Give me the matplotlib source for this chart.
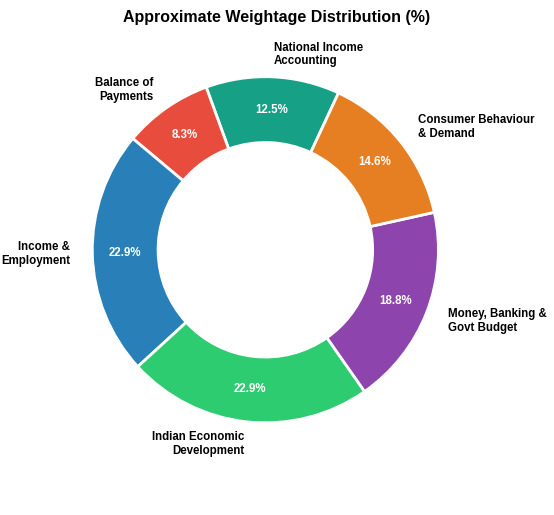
import matplotlib
matplotlib.use("Agg")
import matplotlib.pyplot as plt

labels = ["National Income\nAccounting", "Balance of\nPayments", "Income &\nEmployment",
          "Indian Economic\nDevelopment", "Money, Banking &\nGovt Budget", "Consumer Behaviour\n& Demand"]
values = [6, 4, 11, 11, 9, 7]
colors = ["#16a085", "#e74c3c", "#2980b9", "#2ecc71", "#8e44ad", "#e67e22"]

plt.rcParams['font.family'] = ['Liberation Sans', 'DejaVu Sans']
fig = plt.figure(figsize=(5.54, 5.15), dpi=100)
ax = fig.add_axes([0.034, 0.095, 0.89, 0.84])
wedges, texts, autotexts = ax.pie(values, labels=labels, colors=colors, startangle=65,
       autopct='%1.1f%%', pctdistance=0.81, labeldistance=1.13,
       wedgeprops=dict(width=0.38, edgecolor='white', linewidth=2),
       textprops=dict(fontsize=8.3, fontweight='bold'))
for t in autotexts:
    t.set_color('white')
ax.set_aspect('equal')
fig.suptitle("Approximate Weightage Distribution (%)", fontsize=11.5, fontweight='bold', y=0.98)
fig.savefig("out.png", dpi=100)
